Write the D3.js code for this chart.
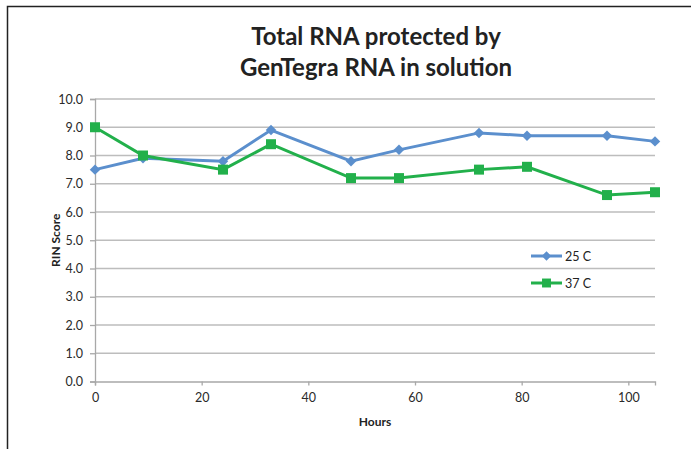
<!DOCTYPE html>
<html lang="en">
<head>
<meta charset="utf-8">
<title>Total RNA protected by GenTegra RNA in solution</title>
<style>
    body { margin: 0; background: #fff; }
    .chart text { font-family: Lato, "Open Sans", sans-serif; fill: #222; }
    .chart .grid line { stroke: #bdbdbd; stroke-width: 1.3; }
    .chart .axis path, .chart .axis line { stroke: #a8a8a8; stroke-width: 1.3; }
    .chart .axis text { font-size: 12.5px; fill: #2a2a2a; }
</style>
</head>
<body>
<svg class="chart" width="691" height="449"></svg>
<script src="https://cdnjs.cloudflare.com/ajax/libs/d3/7.8.5/d3.min.js"></script>
<script>
    // data
    var hours = [0, 9, 24, 33, 48, 57, 72, 81, 96, 105];
    var rin25 = [7.5, 7.9, 7.8, 8.9, 7.8, 8.2, 8.8, 8.7, 8.7, 8.5];
    var rin37 = [9.0, 8.0, 7.5, 8.4, 7.2, 7.2, 7.5, 7.6, 6.6, 6.7];
    var seriesNames = ['25 C', '37 C'];
    var yTicks = [0, 1, 2, 3, 4, 5, 6, 7, 8, 9, 10];
    var xTicks = [0, 20, 40, 60, 80, 100];

    var svg = d3.select('.chart');
    var plotLeft = 95, plotRight = 655, plotTop = 99, plotBottom = 381.5;

    // outer frame (left + top only, as in the cropped screenshot)
    svg.append('path')
        .attr('d', 'M7.5,449 L7.5,6.5 L691,6.5')
        .attr('fill', 'none')
        .attr('stroke', '#222')
        .attr('stroke-width', 1.5);

    var x = d3.scaleLinear().domain([0, 105]).range([plotLeft, plotRight]);
    var y = d3.scaleLinear().domain([0, 10]).range([plotBottom, plotTop]);

    // gridlines
    svg.append('g').attr('class', 'grid')
        .selectAll('line')
        .data(yTicks.slice(1))
        .enter().append('line')
        .attr('x1', plotLeft).attr('x2', plotRight)
        .attr('y1', function(d) { return y(d); })
        .attr('y2', function(d) { return y(d); });

    // axes
    svg.append('g').attr('class', 'axis')
        .attr('transform', 'translate(' + plotLeft + ',0)')
        .call(d3.axisLeft(y).tickValues(yTicks).tickFormat(d3.format('.1f')).tickSizeOuter(0).tickSize(5).tickPadding(7));

    svg.append('g').attr('class', 'axis')
        .attr('transform', 'translate(0,' + plotBottom + ')')
        .call(d3.axisBottom(x).tickValues(xTicks).tickSizeOuter(0).tickSize(4).tickPadding(8));

    // title
    var title = svg.append('text')
        .attr('text-anchor', 'middle')
        .style('font-size', '24px')
        .style('font-weight', 'bold');
    title.append('tspan').attr('x', 376).attr('y', 45).text('Total RNA protected by');
    title.append('tspan').attr('x', 376).attr('y', 76).text('GenTegra RNA in solution');

    // axis labels
    svg.append('text')
        .attr('x', 375).attr('y', 426)
        .attr('text-anchor', 'middle')
        .style('font-size', '12px').style('font-weight', 'bold')
        .text('Hours');

    svg.append('text')
        .attr('transform', 'translate(60,' + ((plotTop + plotBottom) / 2) + ') rotate(-90)')
        .attr('text-anchor', 'middle')
        .style('font-size', '12px').style('font-weight', 'bold')
        .text('RIN Score');

    // series (diamond = square turned 45 degrees)
    var series = [
        { name: seriesNames[0], values: rin25, color: '#5b8fcd', rotate: 45, size: 55 },
        { name: seriesNames[1], values: rin37, color: '#22b04b', rotate: 0, size: 100 }
    ];

    var line = d3.line()
        .x(function(d, i) { return x(hours[i]); })
        .y(function(d) { return y(d); });

    series.forEach(function(s) {
        svg.append('path')
            .datum(s.values)
            .attr('fill', 'none')
            .attr('stroke', s.color)
            .attr('stroke-width', 3)
            .attr('d', line);

        svg.append('g').selectAll('path')
            .data(s.values)
            .enter().append('path')
            .attr('transform', function(d, i) {
                return 'translate(' + x(hours[i]) + ',' + y(d) + ') rotate(' + s.rotate + ')';
            })
            .attr('d', d3.symbol().type(d3.symbolSquare).size(s.size))
            .attr('fill', s.color);
    });

    // legend
    var legend = svg.append('g').attr('transform', 'translate(531,256)');
    series.forEach(function(s, i) {
        var g = legend.append('g').attr('transform', 'translate(0,' + (i * 27) + ')');
        g.append('line')
            .attr('x1', 0).attr('x2', 31)
            .attr('stroke', s.color).attr('stroke-width', 3);
        g.append('path')
            .attr('transform', 'translate(15.5,0) rotate(' + s.rotate + ')')
            .attr('d', d3.symbol().type(d3.symbolSquare).size(s.size * 0.8))
            .attr('fill', s.color);
        g.append('text')
            .attr('x', 34).attr('y', 4.5)
            .style('font-size', '12.5px')
            .text(s.name);
    });
</script>
</body>
</html>
